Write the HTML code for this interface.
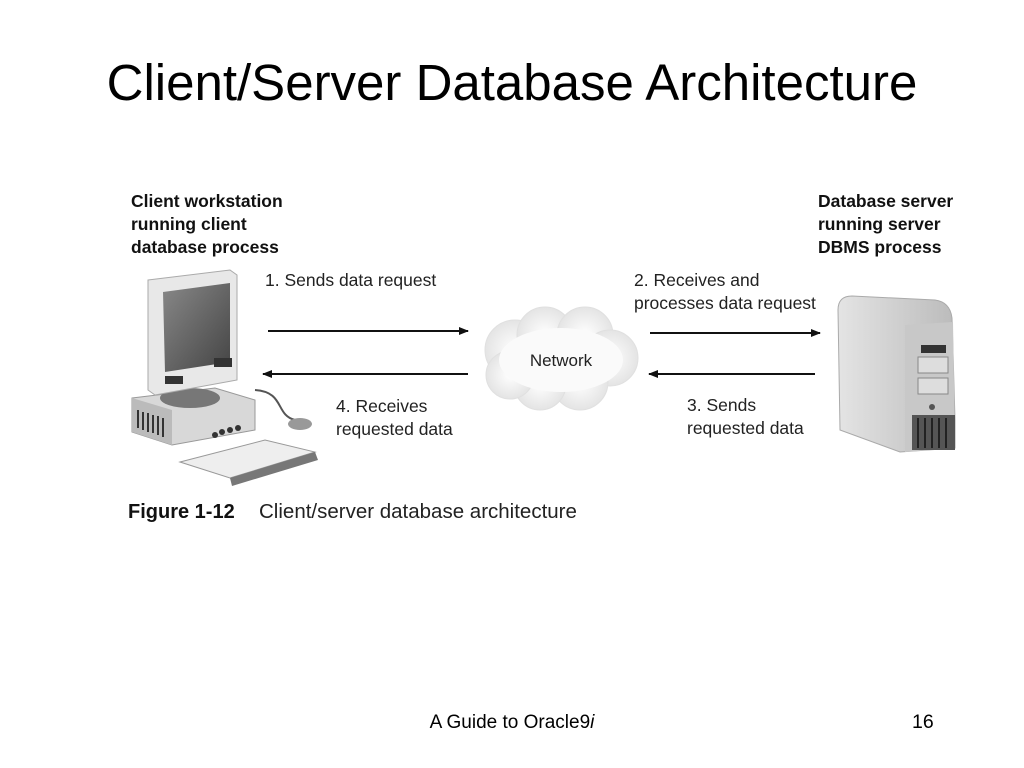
<!DOCTYPE html>
<html><head><meta charset="utf-8"><style>
html,body{margin:0;padding:0;background:#fff}
svg{display:block}
</style></head><body>
<svg width="1024" height="768" viewBox="0 0 1024 768" xmlns="http://www.w3.org/2000/svg" font-family="Liberation Sans, sans-serif">
<defs>
<marker id="ar" markerWidth="10" markerHeight="8" refX="9" refY="4" orient="auto" markerUnits="userSpaceOnUse"><path d="M0,0 L10,4 L0,8 Z" fill="#111"/></marker>
<linearGradient id="scr" x1="0" y1="0" x2="1" y2="1"><stop offset="0" stop-color="#888"/><stop offset="1" stop-color="#444"/></linearGradient>
<linearGradient id="srv" x1="0" y1="0" x2="1" y2="0"><stop offset="0" stop-color="#e4e4e4"/><stop offset="1" stop-color="#bbb"/></linearGradient>
<radialGradient id="cl" cx="0.5" cy="0.5" r="0.5"><stop offset="0" stop-color="#fff"/><stop offset="1" stop-color="#e4e4e4"/></radialGradient>
</defs>
<text x="512" y="100" font-size="51" text-anchor="middle" fill="#000">Client/Server Database Architecture</text>

<g font-weight="bold" font-size="17.5" fill="#111">
<text x="131" y="207">Client workstation</text>
<text x="131" y="230">running client</text>
<text x="131" y="253">database process</text>
<text x="818" y="207">Database server</text>
<text x="818" y="230">running server</text>
<text x="818" y="253">DBMS process</text>
</g>
<g font-size="17.5" fill="#222">
<text x="265" y="286">1. Sends data request</text>
<text x="634" y="286">2. Receives and</text>
<text x="634" y="309">processes data request</text>
<text x="336" y="412">4. Receives</text>
<text x="336" y="435">requested data</text>
<text x="687" y="411">3. Sends</text>
<text x="687" y="434">requested data</text>
</g>

<g stroke="#111" stroke-width="2">
<line x1="268" y1="331" x2="468" y2="331" marker-end="url(#ar)"/>
<line x1="468" y1="374" x2="263" y2="374" marker-end="url(#ar)"/>
<line x1="650" y1="333" x2="820" y2="333" marker-end="url(#ar)"/>
<line x1="815" y1="374" x2="649" y2="374" marker-end="url(#ar)"/>
</g>

<!-- cloud -->
<g fill="url(#cl)" stroke="#e0e0e0" stroke-width="1">
<circle cx="515" cy="350" r="30"/><circle cx="545" cy="335" r="28"/><circle cx="585" cy="335" r="28"/>
<circle cx="610" cy="358" r="28"/><circle cx="580" cy="382" r="28"/><circle cx="540" cy="384" r="26"/>
<circle cx="510" cy="375" r="24"/>
</g>
<ellipse cx="561" cy="360" rx="62" ry="32" fill="#fafafa"/>
<text x="561" y="366" font-size="17" text-anchor="middle" fill="#222">Network</text>

<!-- computer -->
<path d="M132,398 L215,388 L255,400 L255,430 L172,445 L132,432 Z" fill="#d8d8d8" stroke="#999"/>
<path d="M132,398 L172,410 L172,445 L132,432 Z" fill="#bbb"/>
<g stroke="#333" stroke-width="2"><line x1="138" y1="410" x2="138" y2="428"/><line x1="143" y1="412" x2="143" y2="430"/><line x1="148" y1="413" x2="148" y2="432"/><line x1="153" y1="415" x2="153" y2="433"/><line x1="158" y1="416" x2="158" y2="435"/><line x1="163" y1="418" x2="163" y2="437"/></g>
<ellipse cx="190" cy="398" rx="30" ry="10" fill="#777"/>
<path d="M148,280 L230,270 L237,275 L237,380 L155,395 L148,390 Z" fill="#e8e8e8" stroke="#aaa"/>
<path d="M163,292 L230,283 L230,362 L165,372 Z" fill="url(#scr)"/>
<rect x="165" y="376" width="18" height="8" fill="#333"/><rect x="214" y="358" width="18" height="9" fill="#333"/>
<path d="M180,462 L265,440 L315,452 L230,478 Z" fill="#eee" stroke="#999"/>
<path d="M230,478 L315,452 L318,460 L232,486 Z" fill="#777"/>
<path d="M255,390 C285,392 275,415 295,420" fill="none" stroke="#555" stroke-width="2"/>
<ellipse cx="300" cy="424" rx="12" ry="6" fill="#999"/>
<circle cx="215" cy="435" r="3" fill="#333"/><circle cx="222" cy="432" r="3" fill="#333"/><circle cx="230" cy="430" r="3" fill="#333"/><circle cx="238" cy="428" r="3" fill="#333"/>

<!-- server -->
<path d="M838,310 Q838,296 852,296 L935,300 Q950,302 952,318 L955,420 L955,448 L900,452 L840,430 Z" fill="url(#srv)" stroke="#aaa"/>
<path d="M905,325 L953,322 L955,448 L905,452 Z" fill="#c8c8c8"/>
<rect x="921" y="345" width="25" height="8" fill="#333"/>
<rect x="918" y="357" width="30" height="16" fill="#ddd" stroke="#888"/>
<rect x="918" y="378" width="30" height="16" fill="#ddd" stroke="#888"/>
<circle cx="932" cy="407" r="3" fill="#555"/>
<rect x="912" y="415" width="43" height="35" fill="#555"/>
<g stroke="#222" stroke-width="2"><line x1="918" y1="418" x2="918" y2="448"/><line x1="925" y1="418" x2="925" y2="448"/><line x1="932" y1="418" x2="932" y2="448"/><line x1="939" y1="418" x2="939" y2="448"/><line x1="946" y1="418" x2="946" y2="448"/></g>

<text x="128" y="518" font-size="20" font-weight="bold" fill="#111">Figure 1-12</text>
<text x="259" y="518" font-size="20.5" fill="#222">Client/server database architecture</text>

<text x="512" y="728" font-size="19" text-anchor="middle" fill="#000">A Guide to Oracle9<tspan font-style="italic">i</tspan></text>
<text x="912" y="728" font-size="19.5" fill="#000">16</text>
</svg>
</body></html>
